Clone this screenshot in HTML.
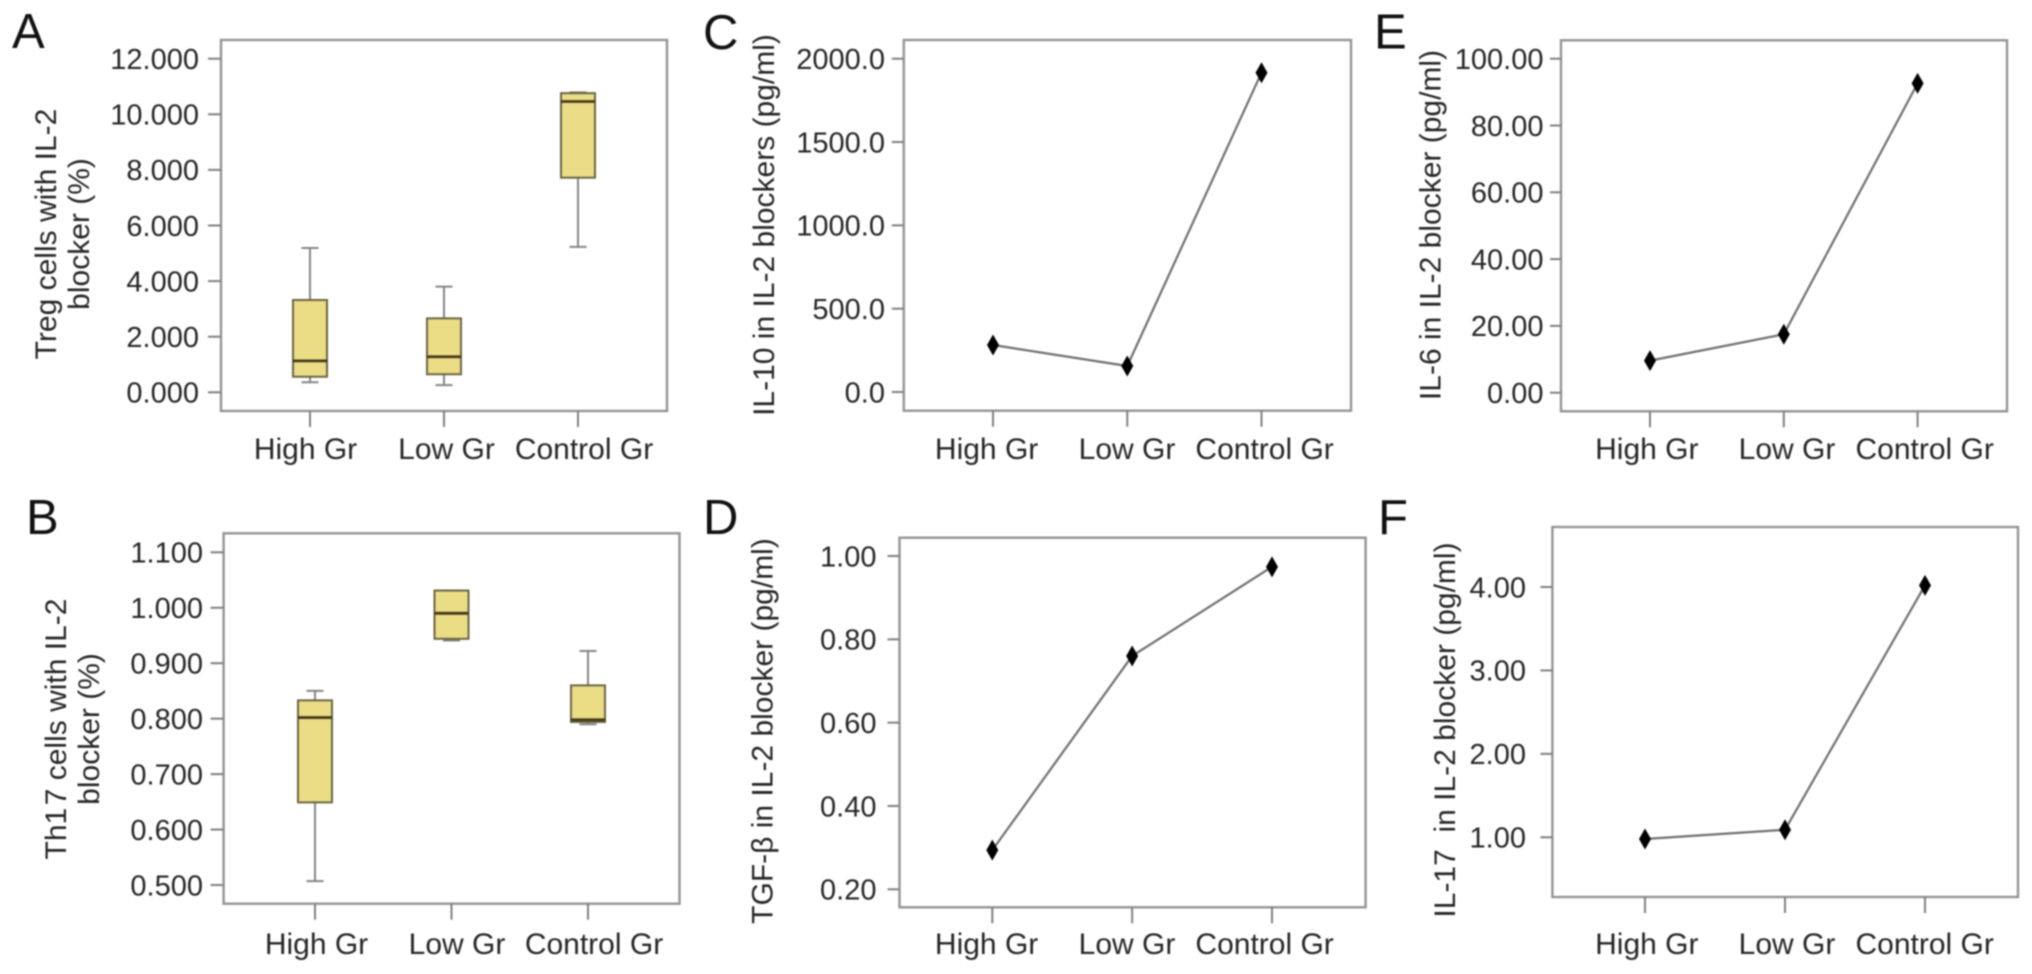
<!DOCTYPE html>
<html lang="en">
<head>
<meta charset="utf-8">
<title>IL-2 blocker panels</title>
<style>
html,body{margin:0;padding:0;background:#fff;width:2032px;height:974px;overflow:hidden}
svg{display:block;filter:blur(0.7px)}
text{font-family:"Liberation Sans",sans-serif;fill:#262626}
</style>
</head>
<body>
<svg id="figure" xmlns="http://www.w3.org/2000/svg" width="2032" height="974" viewBox="0 0 2032 974"></svg>
<script>
// ---------- Data ----------
const categories = ['High Gr', 'Low Gr', 'Control Gr'];

const tregTicks = ['0.000', '2.000', '4.000', '6.000', '8.000', '10.000', '12.000'];
const tregLow = [0.36, 0.26, 5.23];
const tregQ1 = [0.56, 0.65, 7.72];
const tregMedian = [1.13, 1.28, 10.46];
const tregQ3 = [3.32, 2.66, 10.76];
const tregHigh = [5.19, 3.80, 10.79];

const th17Ticks = ['0.500', '0.600', '0.700', '0.800', '0.900', '1.000', '1.100'];
const th17Low = [0.507, 0.941, 0.790];
const th17Q1 = [0.649, 0.944, 0.794];
const th17Median = [0.802, 0.990, 0.798];
const th17Q3 = [0.833, 1.031, 0.860];
const th17High = [0.850, 1.031, 0.922];

const il10Ticks = ['0.0', '500.0', '1000.0', '1500.0', '2000.0'];
const il10Values = [282, 156, 1916];

const tgfTicks = ['0.20', '0.40', '0.60', '0.80', '1.00'];
const tgfValues = [0.294, 0.760, 0.974];

const il6Ticks = ['0.00', '20.00', '40.00', '60.00', '80.00', '100.00'];
const il6Values = [9.6, 17.5, 92.6];

const il17Ticks = ['1.00', '2.00', '3.00', '4.00'];
const il17Values = [0.98, 1.09, 4.02];

// ---------- Drawing helpers ----------
const NS = 'http://www.w3.org/2000/svg';
const root = document.getElementById('figure');

function make(tag, parent, props) {
  const el = document.createElementNS(NS, tag);
  for (const k in props) el.setAttribute(k, props[k]);
  parent.appendChild(el);
  return el;
}

function drawLine(parent, x1, y1, x2, y2, stroke, width, name) {
  const el = make('line', parent, {x1, y1, x2, y2, stroke, 'stroke-width': width});
  
  
  return el;
}

function drawText(parent, str, x, y, size, anchor, name) {
  const el = make('text', parent, {x, y, 'font-size': size, 'text-anchor': anchor});
  el.setAttribute('xml:space', 'preserve');
  el.textContent = str;
  
  
  return el;
}

function setupPanel(p, ticks) {
  const g = make('g', root, {});
  
  

  const letter = drawText(g, p.letter, p.letterX, p.letterY, 49, 'start', 'panel-letter');
  letter.style.fill = '#111';

  const frame = make('rect', g, {x: p.left, y: p.top, width: p.right - p.left, height: p.bottom - p.top, fill: 'none', stroke: '#949494', 'stroke-width': 2.4});
  
  

  const v0 = parseFloat(ticks[0]);
  const v1 = parseFloat(ticks[ticks.length - 1]);
  const yScale = v => p.y0 + (v - v0) * (p.y1 - p.y0) / (v1 - v0);
  const xScale = i => p.x0 + i * (p.x1 - p.x0) / (categories.length - 1);

  ticks.forEach(t => {
    const y = yScale(parseFloat(t));
    drawLine(g, p.left - p.tickLen, y, p.left, y, '#808080', 2, 'y-axis-tick');
    drawText(g, t, p.labelRight, y + 10.3, 29, 'end', 'y-tick-label');
  });

  categories.forEach((c, i) => {
    const x = xScale(i);
    drawLine(g, x, p.bottom, x, p.bottom + 16, '#808080', 2, 'x-axis-tick');
    drawText(g, c, p.catCenters[i], p.catBase, 30, 'middle', 'x-tick-label');
  });

  p.titles.forEach(tt => {
    const el = drawText(g, tt[0], 0, 0, 30, 'middle', 'y-axis-title');
    el.setAttribute('transform', 'translate(' + tt[1] + ' ' + tt[2] + ') rotate(-90)');
  });

  return {g, xScale, yScale};
}

function drawBoxes(p, ticks, low, q1, median, q3, high) {
  const {g, xScale, yScale} = setupPanel(p, ticks);
  categories.forEach((c, i) => {
    const x = xScale(i);
    const box = make('g', g, {});
    
    
    drawLine(box, x, yScale(high[i]), x, yScale(low[i]), '#858585', 2, 'whisker');
    drawLine(box, x - 8.5, yScale(high[i]), x + 8.5, yScale(high[i]), '#858585', 2, 'whisker-cap-high');
    drawLine(box, x - 8.5, yScale(low[i]), x + 8.5, yScale(low[i]), '#858585', 2, 'whisker-cap-low');
    const r = make('rect', box, {x: x - 17, y: yScale(q3[i]), width: 34, height: yScale(q1[i]) - yScale(q3[i]), fill: '#ebdd85', stroke: '#6a6542', 'stroke-width': 2});
    
    
    drawLine(box, x - 17, yScale(median[i]), x + 17, yScale(median[i]), '#45391a', 2.8, 'median-line');
  });
}

function drawSeries(p, ticks, values) {
  const {g, xScale, yScale} = setupPanel(p, ticks);
  const pts = values.map((v, i) => xScale(i) + ',' + yScale(v)).join(' ');
  const line = make('polyline', g, {points: pts, fill: 'none', stroke: '#707070', 'stroke-width': 2.2});
  
  
  values.forEach((v, i) => {
    const x = xScale(i);
    const y = yScale(v);
    const d = make('polygon', g, {points: [x, y - 10.5, x + 6, y, x, y + 10.5, x - 6, y].join(','), fill: '#000'});
    
    
  });
}

// ---------- Panels ----------
drawBoxes({
  letter: 'A', letterX: 12, letterY: 48,
  left: 221, right: 667, top: 40, bottom: 411, tickLen: 13,
  y0: 392.3, y1: 58.7, x0: 310, x1: 578,
  labelRight: 199, catCenters: [305.5, 446.5, 584], catBase: 459,
  titles: [['Treg cells with IL-2', 56, 234], ['blocker (%)', 89, 234]]
}, tregTicks, tregLow, tregQ1, tregMedian, tregQ3, tregHigh);

drawBoxes({
  letter: 'B', letterX: 26, letterY: 534,
  left: 223.6, right: 679.5, top: 533.3, bottom: 903.7, tickLen: 13,
  y0: 885, y1: 552.3, x0: 315, x1: 588,
  labelRight: 203, catCenters: [316.5, 457, 594], catBase: 954,
  titles: [['Th1\u200A7 cells with IL-2', 66, 729], ['blocker (%)', 99, 729]]
}, th17Ticks, th17Low, th17Q1, th17Median, th17Q3, th17High);

drawSeries({
  letter: 'C', letterX: 703, letterY: 49,
  left: 903.8, right: 1351, top: 40, bottom: 410.7, tickLen: 12,
  y0: 392, y1: 58.7, x0: 993, x1: 1261.5,
  labelRight: 885, catCenters: [986.6, 1127, 1264.6], catBase: 459,
  titles: [['IL-10 in IL-2 blockers (pg/ml)', 774, 225]]
}, il10Ticks, il10Values);

drawSeries({
  letter: 'D', letterX: 703, letterY: 534,
  left: 899.5, right: 1365.6, top: 537.7, bottom: 907.3, tickLen: 12,
  y0: 889.3, y1: 556, x0: 992.3, x1: 1272,
  labelRight: 876.5, catCenters: [986.6, 1127, 1264.6], catBase: 954,
  titles: [['TGF-\u03B2 in IL-2 blocker (pg/ml)', 772.4, 731]]
}, tgfTicks, tgfValues);

drawSeries({
  letter: 'E', letterX: 1374, letterY: 48.7,
  left: 1561, right: 2007, top: 40.3, bottom: 411.3, tickLen: 11,
  y0: 392.7, y1: 58.7, x0: 1650, x1: 1917.6,
  labelRight: 1543.5, catCenters: [1646.8, 1787, 1924.7], catBase: 459,
  titles: [['IL-6 in IL-2 blocker (pg/ml)', 1440.6, 225]]
}, il6Ticks, il6Values);

drawSeries({
  letter: 'F', letterX: 1378, letterY: 534,
  left: 1552.4, right: 2018, top: 527, bottom: 897, tickLen: 12,
  y0: 837.3, y1: 587, x0: 1645, x1: 1925,
  labelRight: 1526, catCenters: [1646.8, 1787, 1924.7], catBase: 954,
  titles: [['IL-17\u00A0 in IL-2 blocker (pg/ml)', 1455, 730]]
}, il17Ticks, il17Values);
</script>
</body>
</html>
